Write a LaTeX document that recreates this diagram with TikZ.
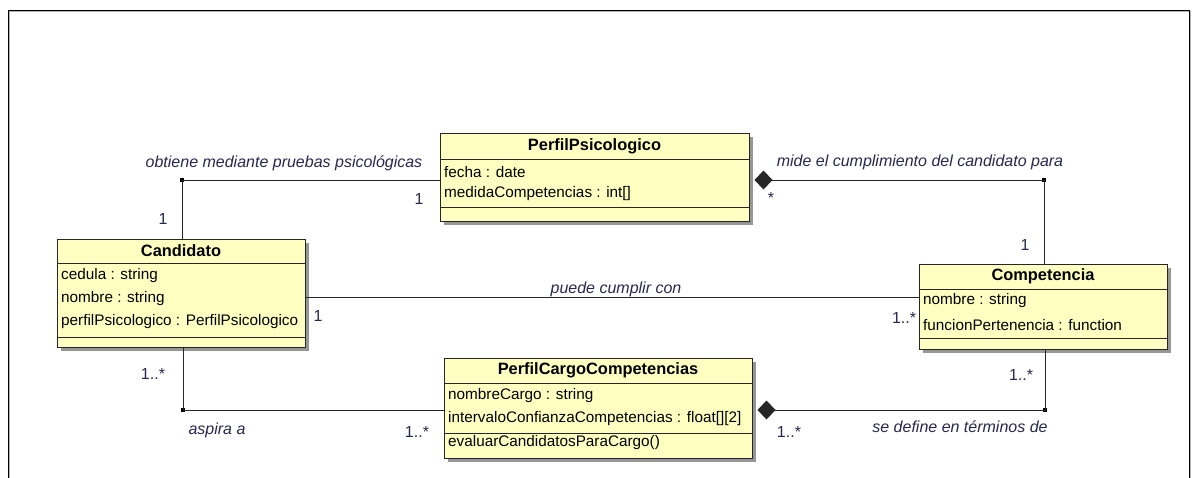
\documentclass[tikz,border=0pt]{standalone}
\usepackage{fontspec}
\setmainfont{Liberation Sans}
\usetikzlibrary{arrows.meta,fit}
\definecolor{classfill}{RGB}{255,255,194}
\definecolor{shadowgray}{RGB}{150,150,150}
\definecolor{labelink}{RGB}{40,40,80}
\tikzset{
  classbox/.style={draw=black!85, line width=1pt, fill=classfill, inner sep=0pt},
  shadowbox/.style={fill=shadowgray},
  sepline/.style={draw=black!85, line width=0.9pt},
  title/.style={font=\fontsize{16.4}{18}\selectfont\bfseries, inner sep=0pt},
  member/.style={font=\fontsize{15.3}{17}\selectfont, anchor=west, inner sep=0pt},
  assoc/.style={draw=black!85, line width=1pt},
  rolelabel/.style={font=\fontsize{16}{18}\selectfont\itshape, text=labelink, inner sep=0pt},
  mult/.style={font=\fontsize{16}{18}\selectfont, text=labelink, inner sep=0pt},
  bendpt/.style={fill=black, minimum size=3.5pt, inner sep=0pt},
  composite/.style={{Diamond[length=18pt,width=19pt]}-},
}
\begin{document}
\begin{tikzpicture}[x=1pt,y=-1pt]
\useasboundingbox (0,0) rectangle (1192,477);
\fill[white] (0,0) rectangle (1192,477);
% outer frame, open at the bottom
\draw[gray!60, line width=1pt] (9,478) -- (9,11) -- (1190,11) -- (1190,478);
\draw[black, line width=1pt] (8,478) -- (8,10) -- (1189,10) -- (1189,478);

% ---- PerfilPsicologico
\fill[shadowbox] (444,137) rectangle (753,225);
\node[classbox, fit={(440,133)(749,221)}] (pp) {};
\draw[sepline] (440,159) -- (749,159);
\draw[sepline] (440,207) -- (749,207);
\node[title] (ppt) at (594.5,146) {PerfilPsicologico};
\node[member] (ppa1) at (444,172) {fecha : date};
\node[member] (ppa2) at (444,194) {medidaCompetencias : int[]};

% ---- Candidato
\fill[shadowbox] (61,243) rectangle (309,351);
\node[classbox, fit={(57,239)(305,347)}] (cand) {};
\draw[sepline] (57,263) -- (305,263);
\draw[sepline] (57,337) -- (305,337);
\node[title] (candt) at (181,251) {Candidato};
\node[member] (canda1) at (61,276) {cedula : string};
\node[member] (canda2) at (61,299) {nombre : string};
\node[member] (canda3) at (61,322) {perfilPsicologico : PerfilPsicologico};

% ---- Competencia
\fill[shadowbox] (923,268) rectangle (1171,353);
\node[classbox, fit={(919,264)(1167,349)}] (comp) {};
\draw[sepline] (919,289) -- (1167,289);
\draw[sepline] (919,338) -- (1167,338);
\node[title] (compt) at (1043,276) {Competencia};
\node[member] (compa1) at (923,301) {nombre : string};
\node[member] (compa2) at (923,325) {funcionPertenencia : function};

% ---- PerfilCargoCompetencias
\fill[shadowbox] (448,362) rectangle (756,462);
\node[classbox, fit={(444,358)(752,458)}] (pcc) {};
\draw[sepline] (444,383) -- (752,383);
\draw[sepline] (444,433) -- (752,433);
\node[title] (pcct) at (598,370) {PerfilCargoCompetencias};
\node[member] (pcca1) at (448,396) {nombreCargo : string};
\node[member] (pcca2) at (448,419) {intervaloConfianzaCompetencias : float[][2]};
\node[member] (pcco1) at (448,443) {evaluarCandidatosParaCargo()};

% ---- bend points of the associations
\node[bendpt] (b1) at (182,180) {};
\node[bendpt] (b2) at (1044,180) {};
\node[bendpt] (b3) at (183,410) {};
\node[bendpt] (b4) at (1045,410) {};

% Candidato -- PerfilPsicologico
\draw[assoc] (cand.north -| b1) -- (b1.center) -- (pp.west |- b1);
\node[rolelabel] (l1) at (284,163) {obtiene mediante pruebas psicológicas};
\node[mult] (m1a) at (163,219) {1};
\node[mult] (m1b) at (419,199) {1};

% PerfilPsicologico <>-- Competencia (diamond clear of the shadow)
\draw[assoc, composite] ([xshift=5pt]pp.east |- b2) -- (b2.center) -- (comp.north -| b2);
\node[rolelabel] (l2) at (920,162) {mide el cumplimiento del candidato para};
\node[mult] (m2a) at (771,198) {*};
\node[mult] (m2b) at (1025,245) {1};

% Candidato -- Competencia
\draw[assoc] (cand.east |- 0,297) -- (comp.west |- 0,297);
\node[rolelabel] (l3) at (616,289) {puede cumplir con};
\node[mult] (m3a) at (318,316) {1};
\node[mult] (m3b) at (904,318) {1..*};

% Candidato -- PerfilCargoCompetencias
\draw[assoc] (cand.south -| b3) -- (b3.center) -- (pcc.west |- b3);
\node[mult] (m4a) at (153,374) {1..*};
\node[rolelabel] (l4) at (217,430) {aspira a};
\node[mult] (m4b) at (417,432) {1..*};

% PerfilCargoCompetencias <>-- Competencia
\draw[assoc, composite] ([xshift=5pt]pcc.east |- b4) -- (b4.center) -- (comp.south -| b4);
\node[mult] (m5a) at (789,432) {1..*};
\node[rolelabel] (l5) at (960,427) {se define en términos de};
\node[mult] (m5b) at (1021,375) {1..*};
\end{tikzpicture}
\end{document}
